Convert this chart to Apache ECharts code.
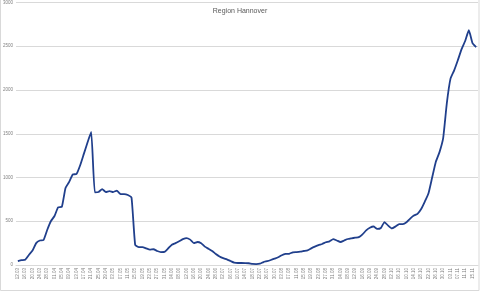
<!DOCTYPE html>
<html>
<head>
<meta charset="utf-8">
<script src="https://cdn.jsdelivr.net/npm/echarts@6/dist/echarts.min.js"></script>
<style>html,body{margin:0;padding:0;background:#fff}#c{width:480px;height:292px}</style>
</head>
<body>
<div id="c"></div>
<script>
const titleText = 'Region Hannover';
const categories = [
'12.03','14.03','16.03','18.03','20.03','22.03','24.03','26.03','28.03','30.03',
'01.04','03.04','05.04','07.04','09.04','11.04','13.04','15.04','17.04','19.04','21.04','23.04','25.04','27.04','29.04',
'01.05','03.05','05.05','07.05','09.05','11.05','13.05','15.05','17.05','19.05','21.05','23.05','25.05','27.05','29.05','31.05',
'02.06','04.06','06.06','08.06','10.06','12.06','14.06','16.06','18.06','20.06','22.06','24.06','26.06','28.06','30.06',
'02.07','04.07','06.07','08.07','10.07','12.07','14.07','16.07','18.07','20.07','22.07','24.07','26.07','28.07','30.07',
'01.08','03.08','05.08','07.08','09.08','11.08','13.08','15.08','17.08','19.08','21.08','23.08','25.08','27.08','29.08','31.08',
'02.09','04.09','06.09','08.09','10.09','12.09','14.09','16.09','18.09','20.09','22.09','24.09','26.09','28.09','30.09',
'02.10','04.10','06.10','08.10','10.10','12.10','14.10','16.10','18.10','20.10','22.10','24.10','26.10','28.10','30.10',
'01.11','03.11','05.11','07.11','09.11','11.11','13.11','15.11','17.11'
];
const values = [
45,55,60,115,165,250,280,285,400,500,
560,660,665,880,950,1035,1040,1140,1270,1400,1520,830,834,868,834,
845,834,850,811,811,800,770,230,205,205,190,175,180,160,148,150,
190,232,250,272,295,308,290,251,263,248,210,185,160,126,98,
78,64,46,28,23,23,22,20,12,11,15,34,44,57,72,
88,112,126,128,145,148,152,160,168,190,210,228,240,260,270,295,
280,263,280,297,305,312,318,350,395,425,440,412,423,491,450,
418,440,468,468,488,530,565,585,640,725,820,1000,1180,1290,1450,
1850,2130,2225,2340,2465,2560,2683,2535,2490
];
const yTicks = [0, 500, 1000, 1500, 2000, 2500, 3000];

const chart = echarts.init(document.getElementById('c'), null, {renderer: 'canvas'});
chart.setOption({
  animation: false,
  backgroundColor: '#ffffff',
  title: {
    text: titleText, left: 'center', top: 3,
    textStyle: {fontSize: 7, fontWeight: 'normal', color: '#595959', fontFamily: 'Liberation Sans'}
  },
  graphic: [{
    type: 'rect', shape: {x: 0.5, y: -2, width: 478.5, height: 292.5},
    style: {fill: 'none', stroke: '#d9d9d9', lineWidth: 1}, silent: true
  }],
  grid: {left: 15, right: 2, top: 2.5, bottom: 27},
  xAxis: {
    type: 'category', data: categories, boundaryGap: true,
    axisLine: {lineStyle: {color: '#d9d9d9'}},
    axisTick: {show: false},
    axisLabel: {interval: 1, rotate: 90, fontSize: 4.5, color: '#7f7f7f', margin: 3, fontFamily: 'Liberation Sans'}
  },
  yAxis: {
    type: 'value', min: yTicks[0], max: yTicks[yTicks.length - 1], interval: 500,
    axisLine: {show: false}, axisTick: {show: false},
    splitLine: {lineStyle: {color: '#d9d9d9', width: 1}},
    axisLabel: {fontSize: 4.5, color: '#7f7f7f', margin: 3, fontFamily: 'Liberation Sans',
      formatter: function (v) { return String(v); }}
  },
  series: [{
    type: 'line', data: values, smooth: 0.15, symbol: 'none',
    lineStyle: {color: '#203f8c', width: 1.8}
  }]
});
</script>
</body>
</html>
